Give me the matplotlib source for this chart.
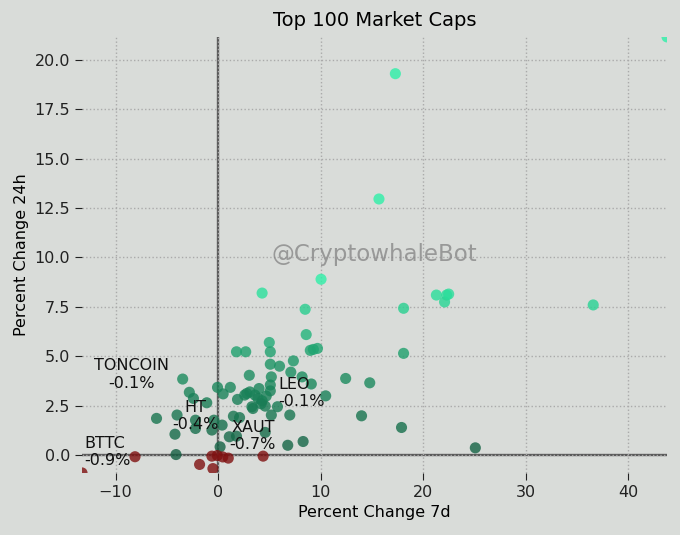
import numpy as np
import matplotlib.pyplot as plt
from matplotlib.colors import LinearSegmentedColormap, Normalize

# percent changes (7d, 24h)
change_7d = [43.8, 17.3, 15.7, 10.05, 4.3, 21.3, 22.3, 22.1, 22.5, 36.6,
             8.5, 18.1, 8.6, 5.0, 1.8, 2.7, 5.1, 9.0, 9.3, 9.7,
             18.1, 5.1, 6.0, 7.35, 7.1, 3.05, 5.2, 8.2, 12.45, 14.8,
             9.1, 5.1, 5.1, -0.05, 1.2, 0.5, 3.1, 4.0, 3.6, 2.8,
             1.9, 2.6, 3.9, 4.3, 4.7, 3.3, 5.8, 10.5, 3.4, 4.6,
             -3.45, -2.8, -2.4, -1.1, -6.0, -4.0, -2.2, -0.4, 1.5, 2.1,
             -4.2, -2.2, -0.6, 0.4, 1.1, 1.8, 0.2, -4.1, 25.1, 17.9,
             14.0, 6.8, 8.3, 4.6, 5.2, 7.0, 4.2,
             -13.27, -8.1, -1.8, -0.5, -0.6, -0.07, 0.46, 1.0, 4.4]
change_24h = [21.16, 19.3, 12.96, 8.9, 8.2, 8.1, 8.1, 7.75, 8.15, 7.6,
              7.38, 7.43, 6.1, 5.7, 5.23, 5.23, 5.23, 5.3, 5.35, 5.4,
              5.15, 4.6, 4.5, 4.77, 4.2, 4.04, 3.96, 3.96, 3.88, 3.66,
              3.6, 3.55, 3.25, 3.43, 3.43, 3.1, 3.2, 3.37, 3.04, 3.12,
              2.82, 3.04, 2.87, 2.75, 2.99, 2.45, 2.45, 3.0, 2.36, 2.48,
              3.85, 3.18, 2.87, 2.65, 1.86, 2.03, 1.77, 1.77, 1.97, 1.9,
              1.06, 1.35, 1.27, 1.52, 0.93, 0.96, 0.42, 0.03, 0.37, 1.4,
              1.99, 0.5, 0.69, 1.15, 2.03, 2.03, 2.6,
              -0.9, -0.08, -0.47, -0.68, -0.05, -0.02, -0.09, -0.15, -0.05]

label_names = ['TONCOIN', 'LEO', 'HT', 'XAUT', 'BTTC']
label_pct = [-0.1, -0.1, -0.4, -0.7, -0.9]
label_at = [(-8.4, 4.08), (5.85, 3.14), (-2.2, 1.97), (3.4, 0.96), (-13.07, 0.17)]
label_ha = ['center', 'left', 'center', 'center', 'left']

x = np.array(change_7d)
y = np.array(change_24h)

bg = '#d9dcd9'
greens = LinearSegmentedColormap.from_list('gr', ['#145f42', '#1c9263', '#2ef0a8'])
norm = Normalize(vmin=0, vmax=9, clip=True)
colors = [greens(norm(v)) if v >= 0 else '#7f1010' for v in y]

fig = plt.figure(figsize=(6.8, 5.35), dpi=100, facecolor=bg)
ax = fig.add_axes([0.1206, 0.116, 0.8603, 0.815], facecolor=bg)

ax.grid(True, linestyle=':', color='#aaaaaa', linewidth=1)
ax.axhline(0, color='#5a5a5a', linewidth=1.7, zorder=1)
ax.axvline(0, color='#5a5a5a', linewidth=1.7, zorder=1)
ax.scatter(x, y, c=colors, s=64, alpha=0.8, linewidths=0, zorder=2)

for name, pct, (tx, ty), ha in zip(label_names, label_pct, label_at, label_ha):
    ax.text(tx, ty, f'{name}\n{pct}%', ha=ha, va='center', multialignment=ha,
            fontsize=11.5, color='#111111', zorder=3)

ax.text(0.5, 0.5, '@CryptowhaleBot', transform=ax.transAxes, ha='center',
        va='center', fontsize=16.5, color='#888888', alpha=0.8)

ax.set_xlim(x.min(), x.max())
ax.set_ylim(y.min(), y.max())
for s in ax.spines.values():
    s.set_visible(False)
ax.tick_params(labelsize=11.5, length=5, colors='#222222')
ax.set_title('Top 100 Market Caps', fontsize=14, pad=8)
ax.set_xlabel('Percent Change 7d', fontsize=11.5)
ax.set_ylabel('Percent Change 24h', fontsize=11.5)

fig.savefig('out.png', dpi=100, facecolor=bg)
